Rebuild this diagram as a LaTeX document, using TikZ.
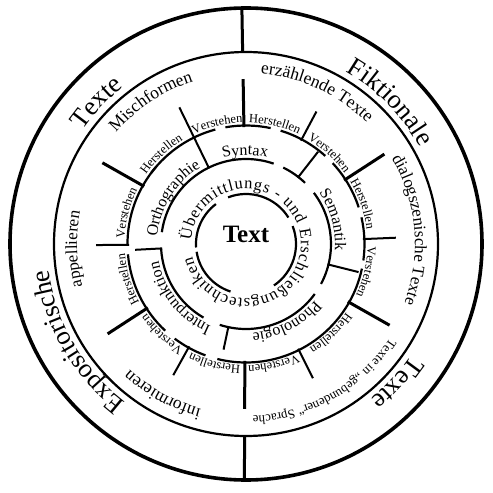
\documentclass[tikz,border=0pt]{standalone}
\usepackage{fontspec}
\setmainfont{Liberation Serif}
\usetikzlibrary{decorations.text}
\tikzset{
  ring/.style={line width=2.2pt},
  bigring/.style={line width=3.6pt},
  longtick/.style={line width=3pt},
  shorttick/.style={line width=2pt},
}
\newcommand\clabel[5]{%
  \path[decorate,decoration={text along path,text align=center,
     text={|\fontsize{#4}{#4}\selectfont|#5}}]
     ({#2+#3}:#1) arc[start angle={#2+#3},end angle={#2-#3},radius=#1];}
\newcommand\rarc[3]{\draw[ring] (#2:#1) arc[start angle=#2,end angle=#3,radius=#1];}
\begin{document}
\begin{tikzpicture}[x=1pt,y=1pt]
\useasboundingbox (-246,-249) rectangle (247,244);
% outer circles and dividers
\draw[bigring] (0,0) circle[radius=236];
\draw[ring] (0,0) circle[radius=192];
\draw[longtick] (91:192) -- (91:236);
\draw[longtick] (269.6:192) -- (269.6:236);
% outer labels
\clabel{199}{136.6}{40}{26.5}{Texte}
\clabel{199}{44.5}{45}{26.5}{Fiktionale}
\clabel{199}{-42.7}{40}{26.5}{Texte}
\clabel{199}{210}{50}{26.5}{Expositorische}
% band labels
\clabel{171}{123.7}{40}{17.5}{Mischformen}
\clabel{171}{65}{45}{17.5}{erzählende Texte}
\clabel{169}{5}{45}{17}{dialogszenische Texte}
\clabel{172}{-60.5}{45}{13}{Texte in „gebundener“ Sprache}
\clabel{171}{241}{40}{17.5}{informieren}
\clabel{169}{181.7}{40}{17}{appellieren}
% Verstehen / Herstellen ring
\rarc{118.5}{143}{105}
\rarc{118.5}{100}{78}
\rarc{118.5}{73}{48}
\rarc{118.5}{43}{18}
\rarc{118.5}{13}{-8}
\rarc{118.5}{-12}{-104}
\rarc{118.5}{-110}{-127}
\rarc{118.5}{-133}{-175}
\rarc{118.5}{-179.6}{-221}
\foreach \a in {91,33,-29.5,-90.5,-147,150.5} \draw[longtick] (\a:117) -- (\a:165);
\foreach \a in {62,2.4,-63.5,-119,180.4} \draw[shorttick] (\a:117) -- (\a:150);
\draw[shorttick] (116:84) -- (116:152);
\foreach \a/\r in {52/117,-14/116,-102/108,-177/111} \draw[shorttick] (\a:84) -- (\a:\r);
\foreach \a in {103.5,47.6,-13,-77,-133,165.4} {\clabel{121.5}{\a}{20}{12.5}{Verstehen}}
\foreach \a in {133.3,76.5,19,-46.5,-104.75,-163.3} {\clabel{121.5}{\a}{20}{12.5}{Herstellen}}
% inner ring
\rarc{85}{172}{71}
\rarc{85}{64}{46}
\rarc{85}{37}{-28}
\rarc{85}{-36}{-108}
\rarc{85}{-120}{-177}
\clabel{89}{90.6}{30}{16}{Syntax}
\clabel{89}{15.5}{35}{16}{Semantik}
\clabel{89}{-62.5}{40}{16}{Phonologie}
\clabel{89}{219}{45}{16}{Interpunktion}
\clabel{89}{148}{45}{16}{Orthographie}
% innermost ring
\rarc{50}{184}{127}
\rarc{50}{111}{32}
\rarc{50}{21}{-56}
\rarc{50}{-108}{-171}
\path[decorate,decoration={text along path,text align={fit to path},
   text={|\fontsize{16.5}{16.5}\selectfont|Übermittlungs - und Erschließungstechniken}}]
   (176:55) arc[start angle=176,end angle=-167,radius=55];
\node[font=\bfseries\fontsize{25}{25}\selectfont, anchor=base] (center) at (0,2) {Text};
\end{tikzpicture}
\end{document}
